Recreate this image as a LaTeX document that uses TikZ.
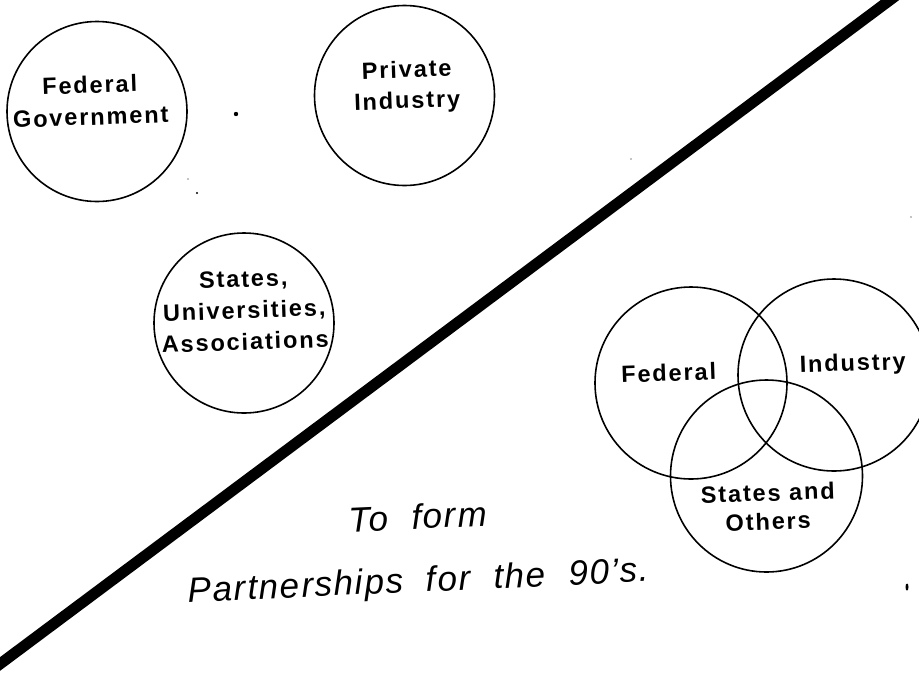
\documentclass[tikz,border=0pt]{standalone}
\usepackage{fontspec}
\setmainfont{Liberation Sans}
\newfontfamily\lblfont[LetterSpace=8.0]{Liberation Sans}
\newfontfamily\slfont[LetterSpace=5.0,WordSpace=2.0]{Liberation Sans}
\begin{document}
\begin{tikzpicture}[x=1pt,y=-1pt,
  ring/.style={draw, circle, line width=1.6pt, inner sep=0pt, minimum size=180pt},
  vring/.style={draw, circle, line width=1.6pt, inner sep=0pt, minimum size=192pt},
  lbl/.style={font={\lblfont\bfseries\fontsize{23.5}{28}\selectfont}, anchor=base, rotate=2, inner sep=0pt},
  sl/.style={font={\slfont\itshape\fontsize{35}{42}\selectfont}, anchor=base, rotate=2.6, inner sep=0pt},
  divider/.style={line width=11pt}]
\useasboundingbox (0,0) rectangle (919,673);
\clip (0,0) rectangle (919,673);
% dividing line
\coordinate (d1) at (-20,678.9);
\coordinate (d2) at (912,-16.4);
\draw[divider] (d1) -- (d2);
% separate circles
\node[ring] (fg) at (97,111.5) {};
\node[lbl] (fg1) at (90,93) {Federal};
\node[lbl] (fg2) at (91,125) {Government};
\node[ring] (pi) at (404.5,95.5) {};
\node[lbl] (pi1) at (407,77.5) {Private};
\node[lbl] (pi2) at (407.5,108.5) {Industry};
\node[ring] (su) at (244,323) {};
\node[lbl] (su1) at (243.5,287) {States,};
\node[lbl] (su2) at (244.5,318.5) {Universities,};
\node[lbl] (su3) at (245.5,350) {Associations};
% Venn
\node[vring] (vf) at (691,383) {};
\node[vring] (vi) at (834,375) {};
\node[vring] (vs) at (766.5,476) {};
\node[lbl] (vf1) at (669,381) {Federal};
\node[lbl] (vi1) at (853,371) {Industry};
\node[lbl] (vs1) at (768,501) {States and};
\node[lbl] (vs2) at (768.5,530) {Others};
% slogan
\node[sl] (t1) at (418.5,529) {To form};
\node[sl] (t2) at (419,592) {Partnerships for the 90’s.};
% specks
\fill (236,114) circle (2.2pt);
\fill (188,179) circle (0.7pt);
\fill (197,193) circle (1.2pt);
\fill (631,159) circle (0.6pt);
\fill (911,217) circle (0.6pt);
\fill (907,587) ellipse (1.5pt and 3.5pt);
\end{tikzpicture}
\end{document}
